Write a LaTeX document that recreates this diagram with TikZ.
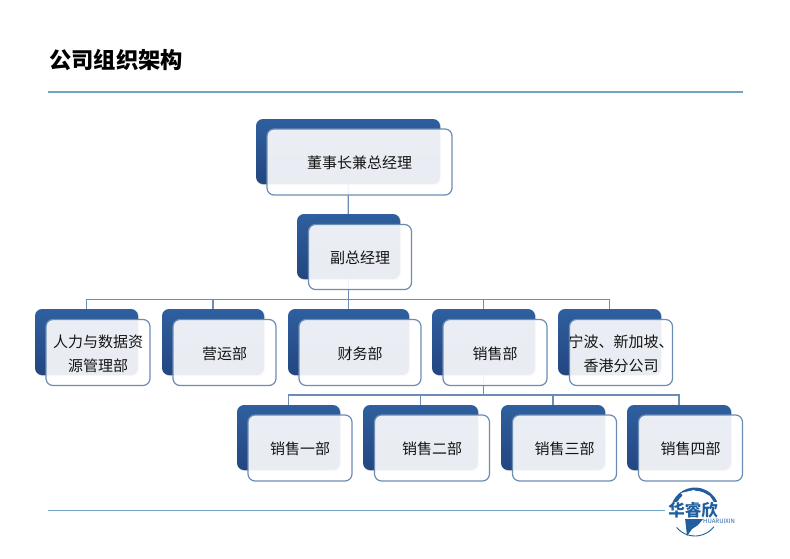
\documentclass[tikz,border=0pt]{standalone}
\usepackage{fontspec}
\setmainfont{Noto Sans CJK SC}
\usetikzlibrary{%
    calc,
    positioning,
    shadows
}
\definecolor{boxtop}{HTML}{2F5F9F}
\definecolor{boxbottom}{HTML}{234680}
\definecolor{boxline}{HTML}{6C8CB4}
\definecolor{rulecolor}{HTML}{6FA5C2}
\definecolor{logoblue}{HTML}{1F5FA0}
\tikzset{
    backbox/.style = {rounded corners=7pt, inner sep=0pt, top color=boxtop, bottom color=boxbottom,
        general shadow={shadow xshift=1pt, shadow yshift=-1pt, fill=black!18}},
    frontbox/.style = {draw=boxline, line width=1.2pt, rounded corners=7pt, inner sep=0pt, fill=white,
        fill opacity=.9},
    boxtext/.style = {inner sep=0pt, yshift=-1pt, align=center, text=black!92,
        font=\fontsize{15}{24}\selectfont},
    branch/.style = {draw=boxline, line width=1.2pt},
    headrule/.style = {draw=rulecolor, line width=1.2pt}
}

\begin{document}
\begin{tikzpicture}[x=1pt,y=1pt]
    \useasboundingbox[fill=white] (0,0) rectangle (790,-558);

    \node[anchor=west,inner sep=0pt,font=\fontsize{22.3}{26}\selectfont\bfseries] (title) at (49,-60) {公司组织架构};
    \coordinate (rule-a) at (48,-92);
    \coordinate (rule-b) at (743,-92);
    \coordinate (rule-c) at (48,-510.5);
    \coordinate (rule-d) at (665,-510.5);
    \draw[headrule] (rule-a) -- (rule-b);
    \draw[headrule] (rule-c) -- (rule-d);

    % back boxes first, the branches run on top of them
    \foreach \Name/\X/\Y/\W/\H in {%
        chair/348/151.5/184/65,
        vice/348.5/246.5/103/65,
        hr/86.5/342/103/66,
        ops/213/342/102/66,
        fin/348.5/342/121/66,
        sales/483.5/342/103/66,
        branch/609.5/342/103/66,
        salesa/288.5/437.5/103/65,
        salesb/420.5/437.5/115/65,
        salesc/553/437.5/104/65,
        salesd/679/437.5/104/65}
        \node[backbox,minimum width=\W pt,minimum height=\H pt] (\Name-b) at (\X,-\Y) {};

    \coordinate (bus-1) at (348.5,-299.5);
    \coordinate (bus-2) at (483.5,-395);
    \draw[branch] (chair-b) -- (vice-b);
    \draw[branch] (vice-b) -- (bus-1);
    \draw[branch] (sales-b) -- (bus-2);
    \foreach \Target in {hr,ops,fin,sales,branch}
        \draw[branch] (bus-1) -| (\Target-b.north);
    \foreach \Target in {salesa,salesb,salesc,salesd}
        \draw[branch] (bus-2) -| (\Target-b.north);

    \foreach \Name/\W/\H/\Label in {%
        chair/185/66/董事长兼总经理,
        vice/103/65/副总经理,
        hr/104/66/{人力与数据资\\源管理部},
        ops/103/66/营运部,
        fin/122/66/财务部,
        sales/104/66/销售部,
        branch/103/66/{宁波、新加坡、\\香港分公司},
        salesa/104/66/销售一部,
        salesb/115/66/销售二部,
        salesc/104/66/销售三部,
        salesd/104/66/销售四部}
        {
        \node[frontbox,minimum width=\W pt,minimum height=\H pt] (\Name) at ($(\Name-b)+(11.5,-10.5)$) {};
        \node[boxtext] (\Name-t) at (\Name) {\Label};
        }

    % logo
    \coordinate (globe) at (695,-512);
    \fill[logoblue] (globe) ++(165:24.5) arc (165:25:24.5) -- ++(-3,-1) arc (25:150:20.5) -- cycle;
    \fill[white] (681,-493) -- (694,-490) -- (702,-494) -- (692,-498) -- (684,-498) -- cycle;
    \fill[white] (705,-494) -- (710,-496) -- (713,-503) -- (708,-501) -- cycle;
    \draw[logoblue,line width=.9pt] (globe) ++(220:24) arc (220:322:24);
    \fill[logoblue] (685,-518) -- (704,-518) -- (698,-525) -- (692,-529) -- (687,-536) -- (686,-527) -- cycle;
    \node[fill=white,inner sep=.5pt,text=logoblue,font=\fontsize{16.5}{16.5}\selectfont\bfseries] (logo) at (693,-510.5) {华睿欣};
    \node[text=logoblue,inner sep=0pt,anchor=west,font=\fontsize{6}{6}\selectfont] (logo-en) at (703,-521.5) {HUARUIXIN};
\end{tikzpicture}
\end{document}
